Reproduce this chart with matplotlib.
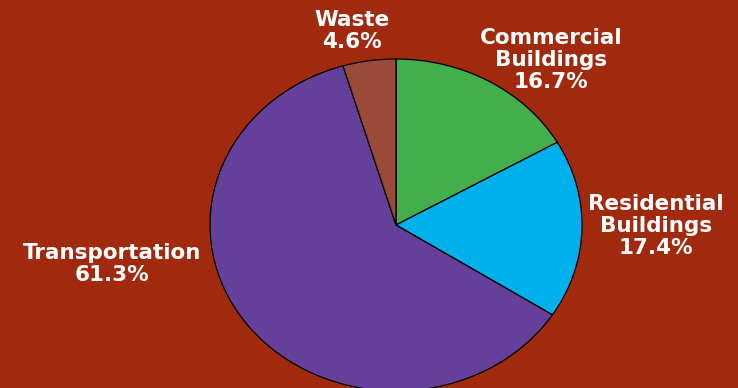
import matplotlib.pyplot as plt

# Data
sectors = ['Commercial\nBuildings', 'Residential\nBuildings', 'Transportation', 'Waste']
shares = [16.7, 17.4, 61.3, 4.6]
colors = ['#43AE4C', '#00B0EA', '#65409A', '#9A4B3A']
bg = '#A0290E'

# label centers (pixels from top-left)
label_pos = [(551, 60), (656, 226), (112, 264), (352, 31)]

W, H = 738, 388
squash = 166 / 186  # pie is drawn slightly flattened

fig = plt.figure(figsize=(W / 100, H / 100), dpi=100)
fig.patch.set_facecolor(bg)
ax = fig.add_axes([0, 0, 1, 1])
ax.set_facecolor(bg)

ax.pie(shares, colors=colors, startangle=90, counterclock=False,
       center=(396, (H - 225) / squash), radius=186, frame=True,
       wedgeprops=dict(edgecolor='black', linewidth=0.9))
ax.set_xlim(0, W)
ax.set_ylim(0, H / squash)
ax.set_aspect('auto')
ax.axis('off')

for name, val, (x, y) in zip(sectors, shares, label_pos):
    fig.text(x / W, 1 - y / H, f'{name}\n{val:.1f}%', ha='center', va='center',
             color='white', fontsize=15.5, fontweight='bold',
             family='DejaVu Sans', linespacing=1.1)

fig.savefig('out.png', dpi=100, facecolor=bg)
